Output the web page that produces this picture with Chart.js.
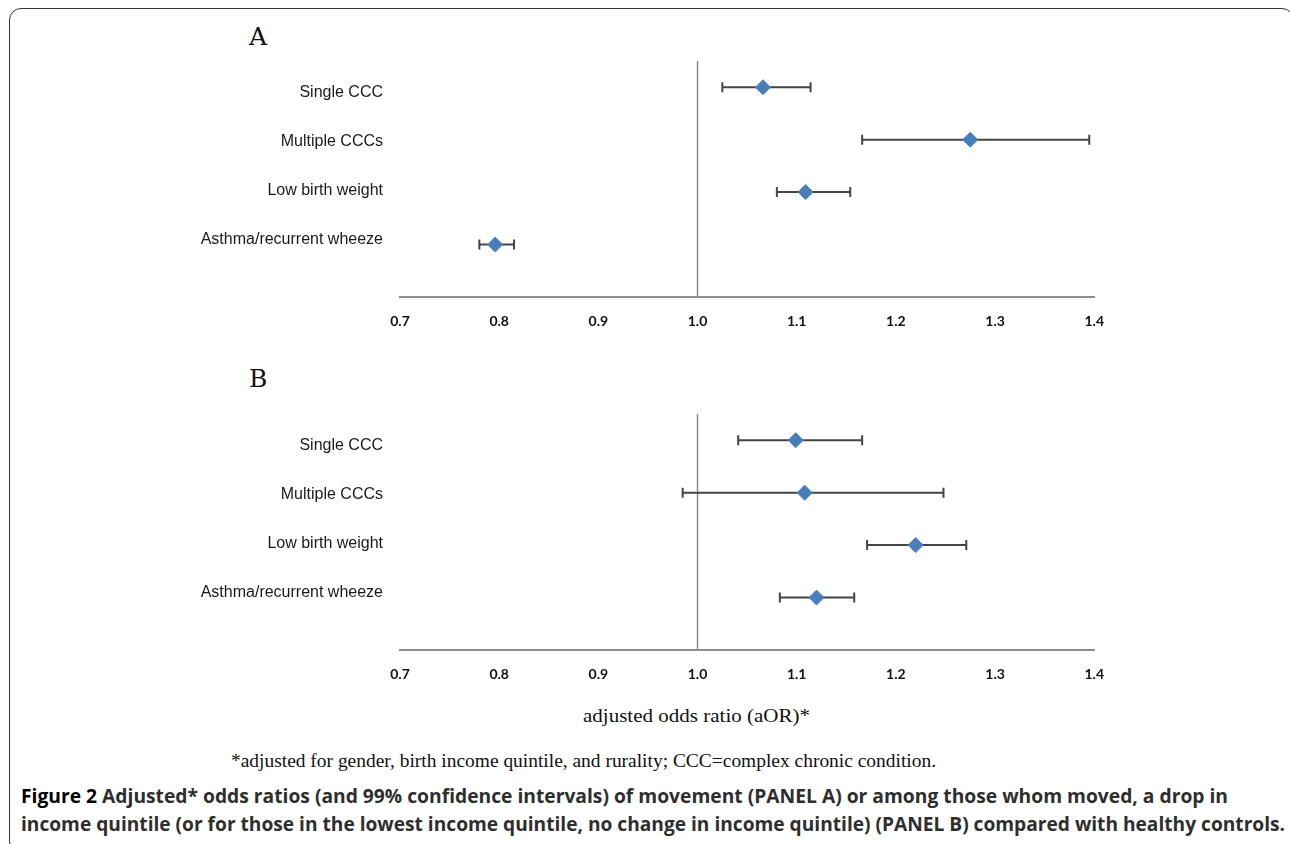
<!DOCTYPE html>
<html>
<head>
<meta charset="utf-8">
<script src="https://cdn.jsdelivr.net/npm/chart.js@4.4.1/dist/chart.umd.min.js"></script>
<style>
  html, body { margin: 0; padding: 0; background: #fff; width: 1290px; height: 844px; overflow: hidden; }
  #frame { position: absolute; left: 9px; top: 8px; width: 1285px; height: 845px; border: 1.5px solid #333; border-radius: 12px; box-sizing: border-box; }
  .panel { position: absolute; left: 0; width: 1120px; height: 290px; }
  .letter { position: absolute; font-family: "DejaVu Serif", serif; font-size: 25px; color: #111; }
  .fit { position: absolute; white-space: nowrap; transform-origin: 0 0; }
  .serif { font-family: "Liberation Serif", serif; color: #111; }
  .cap { font-family: "Open Sans", "Liberation Sans", sans-serif; font-size: 20px; font-weight: 700; color: #2e2e2e; }
  .cap b { color: #000; font-weight: 700; }
</style>
</head>
<body>
<div id="frame"></div>
<div class="letter" style="left:249px; top:22px;">A</div>
<div class="letter" style="left:249px; top:364px;">B</div>
<div class="panel" style="top:50px;"><canvas id="chartA" width="1120" height="290"></canvas></div>
<div class="panel" style="top:403px;"><canvas id="chartB" width="1120" height="290"></canvas></div>
<span class="fit serif" data-w="227" style="left:583px; top:706px; font-size:18px;">adjusted odds ratio (aOR)*</span>
<span class="fit serif" data-w="705" style="left:231px; top:750px; font-size:19px;">*adjusted for gender, birth income quintile, and rurality; CCC=complex chronic condition.</span>
<span class="fit cap" data-w="1207" style="left:21px; top:782px;"><b>Figure 2</b> Adjusted* odds ratios (and 99% confidence intervals) of movement (PANEL A) or among those whom moved, a drop in</span>
<span class="fit cap" data-w="1264" style="left:21px; top:810px;">income quintile (or for those in the lowest income quintile, no change in income quintile) (PANEL B) compared with healthy controls.</span>
<script>
const categories = ["Single CCC", "Multiple CCCs", "Low birth weight", "Asthma/recurrent wheeze"];
const xTicks = [0.7, 0.8, 0.9, 1.0, 1.1, 1.2, 1.3, 1.4];

// panel A: movement
const aorA = [1.066, 1.275, 1.109, 0.796];
const lowA = [1.025, 1.166, 1.080, 0.780];
const highA = [1.114, 1.395, 1.154, 0.815];

// panel B: drop in income quintile
const aorB = [1.099, 1.108, 1.220, 1.120];
const lowB = [1.041, 0.985, 1.171, 1.083];
const highB = [1.166, 1.248, 1.271, 1.158];

// squeeze the caption lines to the widths of the figure
document.querySelectorAll(".fit").forEach((el) => {
  const w = el.getBoundingClientRect().width;
  el.style.transform = `scaleX(${Number(el.dataset.w) / w})`;
});

const makeForest = (canvas, aor, low, high) => {
  const datasets = [
    {
      type: "scatter",
      data: aor.map((v, i) => ({ x: v, y: i + 1 })),
      pointStyle: "rectRot",
      pointRadius: 7.5,
      backgroundColor: "#4a7ebb",
      borderColor: "#4a7ebb",
      borderWidth: 1,
    },
  ];
  // confidence interval lines with end caps
  categories.forEach((c, i) => {
    datasets.push({
      type: "line",
      data: [{ x: low[i], y: i + 1 }, { x: high[i], y: i + 1 }],
      borderColor: "#444",
      borderWidth: 2,
      pointStyle: "line",
      pointRotation: 90,
      pointRadius: 5,
      pointBorderColor: "#444",
      pointBorderWidth: 2,
    });
  });
  // reference line at aOR = 1
  datasets.push({
    type: "line",
    data: [{ x: 1.0, y: 0.5 }, { x: 1.0, y: 5 }],
    borderColor: "#8c8c8c",
    borderWidth: 1.5,
    pointRadius: 0,
  });

  return new Chart(canvas, {
    type: "scatter",
    data: { datasets: datasets },
    options: {
      responsive: false,
      animation: false,
      layout: { padding: { left: 0, right: 24, top: 11, bottom: 0 } },
      plugins: { legend: { display: false }, tooltip: { enabled: false } },
      scales: {
        x: {
          type: "linear",
          min: 0.7,
          max: 1.4,
          afterBuildTicks: (scale) => {
            scale.ticks = xTicks.map((v) => ({ value: v }));
          },
          afterFit: (scale) => {
            scale.height = 43;
          },
          grid: { display: false, drawTicks: false },
          border: { display: true, color: "#8c8c8c", width: 2 },
          ticks: {
            padding: 16,
            color: "#111",
            font: { family: "Lato, 'Liberation Sans', sans-serif", size: 14, weight: "bold" },
            callback: (v) => Number(v).toFixed(1),
          },
        },
        y: {
          type: "linear",
          display: false,
          min: 0.5,
          max: 5,
          reverse: true,
        },
        yl: {
          type: "linear",
          position: "left",
          min: 0.347,
          max: 5.163,
          reverse: true,
          afterBuildTicks: (scale) => {
            scale.ticks = categories.map((c, i) => ({ value: i + 1 }));
          },
          afterFit: (scale) => {
            scale.width = 400;
            scale.paddingTop = 0;
            scale.paddingBottom = 0;
          },
          grid: { display: false, drawTicks: false },
          border: { display: false },
          ticks: {
            padding: 17,
            color: "#1a1a1a",
            font: { family: "'Liberation Sans', Arial, sans-serif", size: 16 },
            callback: (v) => categories[Math.round(v) - 1],
          },
        },
      },
    },
  });
};

makeForest(document.getElementById("chartA"), aorA, lowA, highA);
makeForest(document.getElementById("chartB"), aorB, lowB, highB);
</script>
</body>
</html>
